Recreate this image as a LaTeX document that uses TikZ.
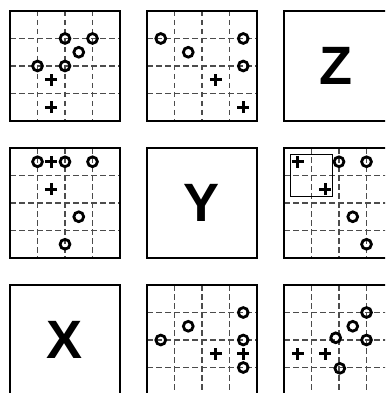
\documentclass[tikz,border=0pt]{standalone}
\usepackage{fontspec}
\setmainfont{Liberation Sans}
\tikzset{
  frame/.style={line width=2.8pt},
  gridline/.style={line width=1.1pt, black!70, dash pattern=on 5.5pt off 3.5pt},
  ring/.style={line width=2.8pt},
  crossline/.style={line width=2.8pt},
  thinbox/.style={line width=0.9pt},
  letter/.style={font=\fontsize{54}{54}\selectfont\bfseries, inner sep=0pt},
  cellunits/.style={x=27.5pt, y=-27.5pt},
  pics/gridpanel/.style={code={
    \foreach \k in {1,2,3}{\draw[gridline] (\k,0)--(\k,4) (0,\k)--(4,\k);}
  }},
  pics/framepanel/.style={code={\draw[frame] (0,0) rectangle (4,4);}},
  pics/ringmark/.style={code={\draw[ring] (0,0) circle[radius=4.9pt];}},
  pics/crossmark/.style={code={\draw[crossline] (-5.8pt,0)--(5.8pt,0) (0,-5.8pt)--(0,5.8pt);}}
}
\begin{document}
\begin{tikzpicture}[x=1pt, y=-1pt]
\useasboundingbox (0,0) rectangle (385,393);
\clip (0,0) rectangle (385,393);
% panel 1
\begin{scope}[shift={(10pt,-11pt)}, cellunits]
  \pic {gridpanel};
  \foreach \p in {(2,1),(3,1),(2.5,1.5),(1,2),(2,2)} \pic at \p {ringmark};
  \foreach \p in {(1.5,2.5),(1.5,3.5)} \pic at \p {crossmark};
  \pic {framepanel};
\end{scope}
% panel 2
\begin{scope}[shift={(147pt,-11pt)}, cellunits]
  \pic {gridpanel};
  \foreach \p in {(0.5,1),(1.5,1.5),(3.5,1),(3.5,2)} \pic at \p {ringmark};
  \foreach \p in {(2.5,2.5),(3.5,3.5)} \pic at \p {crossmark};
  \pic {framepanel};
\end{scope}
% panel 3
\begin{scope}[shift={(284pt,-11pt)}, cellunits]
  \pic {framepanel};
  \node[letter] (z) at (1.9,2) {Z};
\end{scope}
% panel 4
\begin{scope}[shift={(10pt,-148pt)}, cellunits]
  \pic {gridpanel};
  \foreach \p in {(1,0.5),(2,0.5),(3,0.5),(2.5,2.5),(2,3.5)} \pic at \p {ringmark};
  \foreach \p in {(1.5,0.5),(1.5,1.5)} \pic at \p {crossmark};
  \pic {framepanel};
\end{scope}
% panel 5
\begin{scope}[shift={(147pt,-148pt)}, cellunits]
  \pic {framepanel};
  \node[letter] (y) at (2,2) {Y};
\end{scope}
% panel 6
\begin{scope}[shift={(284pt,-148pt)}, cellunits]
  \pic {gridpanel};
  \draw[thinbox] (0.25,0.25) rectangle (1.75,1.75);
  \foreach \p in {(2,0.5),(3,0.5),(2.5,2.5),(3,3.5)} \pic at \p {ringmark};
  \foreach \p in {(0.5,0.5),(1.5,1.5)} \pic at \p {crossmark};
  \pic {framepanel};
\end{scope}
% panel 7
\begin{scope}[shift={(10pt,-285pt)}, cellunits]
  \pic {framepanel};
  \node[letter] (x) at (2,2) {X};
\end{scope}
% panel 8
\begin{scope}[shift={(147pt,-285pt)}, cellunits]
  \pic {gridpanel};
  \foreach \p in {(0.5,2),(1.5,1.5),(3.5,1),(3.5,2),(3.5,3)} \pic at \p {ringmark};
  \foreach \p in {(2.5,2.5),(3.5,2.5)} \pic at \p {crossmark};
  \pic {framepanel};
\end{scope}
% panel 9
\begin{scope}[shift={(284pt,-285pt)}, cellunits]
  \pic {gridpanel};
  \foreach \p in {(3,1),(2.5,1.5),(1.88,1.92),(3,2),(2.03,3.03)} \pic at \p {ringmark};
  \foreach \p in {(0.5,2.5),(1.5,2.5)} \pic at \p {crossmark};
  \pic {framepanel};
\end{scope}
\end{tikzpicture}
\end{document}
